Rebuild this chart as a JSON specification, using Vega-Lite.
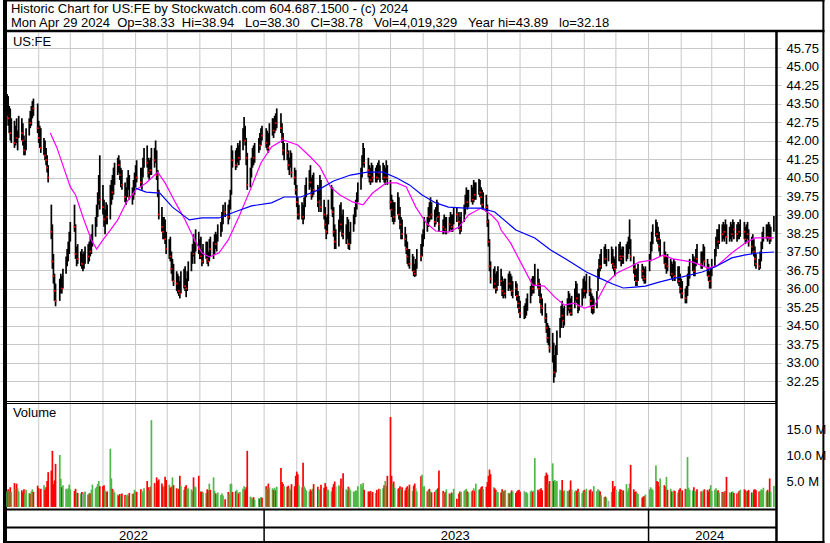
{
"$schema":"https://vega.github.io/schema/vega-lite/v6.json",
"width":781,"height":543,
"padding":{"left":0,"top":0,"right":49,"bottom":0},
"autosize":{"type":"none"},
"background":"white",
"config":{"font":"Liberation Sans","view":{"stroke":null},"axis":{"labelFont":"Liberation Sans","labelFontSize":13,"labelColor":"#000000","ticks":false,"domain":false,"grid":true,"gridColor":"#c8c8c8","gridWidth":1,"labelPadding":5,"labelOverlap":false,"labelFlush":false}},
"datasets":{
"months":[{"m":"2022-06-01"},{"m":"2022-07-01"},{"m":"2022-08-01"},{"m":"2022-09-01"},{"m":"2022-10-01"},{"m":"2022-11-01"},{"m":"2022-12-01"},{"m":"2023-01-01"},{"m":"2023-02-01"},{"m":"2023-03-01"},{"m":"2023-04-01"},{"m":"2023-05-01"},{"m":"2023-06-01"},{"m":"2023-07-01"},{"m":"2023-08-01"},{"m":"2023-09-01"},{"m":"2023-10-01"},{"m":"2023-11-01"},{"m":"2023-12-01"},{"m":"2024-01-01"},{"m":"2024-02-01"},{"m":"2024-03-01"},{"m":"2024-04-01"}],
"years":[{"yr":"2022","mid":"2022-08-30","start":"2022-04-30"},{"yr":"2023","mid":"2023-07-01T12:00:00Z","start":"2023-01-01"},{"yr":"2024","mid":"2024-02-28","start":"2024-01-01"}],
"ma":[
{"d":"2022-06-12","p":42.30,"s":"m"},{"d":"2022-06-18","p":41.74,"s":"m"},{"d":"2022-07-01","p":40.12,"s":"m"},{"d":"2022-07-06","p":39.79,"s":"m"},{"d":"2022-07-14","p":38.78,"s":"m"},{"d":"2022-07-21","p":37.97,"s":"m"},{"d":"2022-07-26","p":37.60,"s":"m"},{"d":"2022-08-01","p":37.97,"s":"m"},{"d":"2022-08-08","p":38.37,"s":"m"},{"d":"2022-08-15","p":38.78,"s":"m"},{"d":"2022-08-23","p":39.47,"s":"m"},{"d":"2022-09-01","p":39.99,"s":"m"},{"d":"2022-09-11","p":40.28,"s":"m"},{"d":"2022-09-22","p":40.72,"s":"m"},{"d":"2022-09-29","p":40.28,"s":"m"},{"d":"2022-10-09","p":39.47,"s":"m"},{"d":"2022-10-18","p":38.78,"s":"m"},{"d":"2022-10-27","p":37.97,"s":"m"},{"d":"2022-11-03","p":37.44,"s":"m"},{"d":"2022-11-10","p":37.28,"s":"m"},{"d":"2022-11-19","p":37.44,"s":"m"},{"d":"2022-11-28","p":37.97,"s":"m"},{"d":"2022-12-08","p":38.90,"s":"m"},{"d":"2022-12-20","p":40.12,"s":"m"},{"d":"2022-12-29","p":41.09,"s":"m"},{"d":"2023-01-08","p":41.74,"s":"m"},{"d":"2023-01-19","p":42.02,"s":"m"},{"d":"2023-02-02","p":41.82,"s":"m"},{"d":"2023-02-14","p":41.33,"s":"m"},{"d":"2023-02-23","p":40.93,"s":"m"},{"d":"2023-03-05","p":40.12,"s":"m"},{"d":"2023-03-14","p":39.79,"s":"m"},{"d":"2023-03-26","p":39.51,"s":"m"},{"d":"2023-04-05","p":39.39,"s":"m"},{"d":"2023-04-14","p":39.87,"s":"m"},{"d":"2023-04-27","p":40.28,"s":"m"},{"d":"2023-05-07","p":40.28,"s":"m"},{"d":"2023-05-16","p":40.12,"s":"m"},{"d":"2023-05-25","p":39.30,"s":"m"},{"d":"2023-06-04","p":38.65,"s":"m"},{"d":"2023-06-13","p":38.33,"s":"m"},{"d":"2023-06-25","p":38.29,"s":"m"},{"d":"2023-07-05","p":38.49,"s":"m"},{"d":"2023-07-14","p":38.98,"s":"m"},{"d":"2023-07-26","p":39.26,"s":"m"},{"d":"2023-08-05","p":38.98,"s":"m"},{"d":"2023-08-11","p":38.70,"s":"m"},{"d":"2023-08-14","p":38.37,"s":"m"},{"d":"2023-08-23","p":37.85,"s":"m"},{"d":"2023-09-02","p":37.03,"s":"m"},{"d":"2023-09-13","p":36.14,"s":"m"},{"d":"2023-09-24","p":36.10,"s":"m"},{"d":"2023-10-04","p":35.65,"s":"m"},{"d":"2023-10-13","p":35.33,"s":"m"},{"d":"2023-10-22","p":35.41,"s":"m"},{"d":"2023-11-01","p":35.21,"s":"m"},{"d":"2023-11-11","p":35.33,"s":"m"},{"d":"2023-11-22","p":36.22,"s":"m"},{"d":"2023-12-02","p":36.63,"s":"m"},{"d":"2023-12-14","p":36.87,"s":"m"},{"d":"2023-12-23","p":37.07,"s":"m"},{"d":"2024-01-05","p":37.16,"s":"m"},{"d":"2024-01-15","p":37.36,"s":"m"},{"d":"2024-01-24","p":37.20,"s":"m"},{"d":"2024-01-30","p":37.16,"s":"m"},{"d":"2024-02-12","p":37.07,"s":"m"},{"d":"2024-02-27","p":36.83,"s":"m"},{"d":"2024-03-07","p":36.95,"s":"m"},{"d":"2024-03-20","p":37.44,"s":"m"},{"d":"2024-04-02","p":37.85,"s":"m"},{"d":"2024-04-11","p":38.05,"s":"m"},{"d":"2024-04-29","p":38.05,"s":"m"},
{"d":"2022-09-01","p":40.07,"s":"b"},{"d":"2022-09-11","p":39.91,"s":"b"},{"d":"2022-09-24","p":39.87,"s":"b"},{"d":"2022-10-06","p":39.30,"s":"b"},{"d":"2022-10-22","p":38.78,"s":"b"},{"d":"2022-11-03","p":38.86,"s":"b"},{"d":"2022-11-19","p":38.86,"s":"b"},{"d":"2022-12-04","p":39.10,"s":"b"},{"d":"2022-12-20","p":39.35,"s":"b"},{"d":"2023-01-08","p":39.47,"s":"b"},{"d":"2023-01-20","p":39.71,"s":"b"},{"d":"2023-02-05","p":39.71,"s":"b"},{"d":"2023-02-21","p":39.99,"s":"b"},{"d":"2023-03-08","p":40.36,"s":"b"},{"d":"2023-03-24","p":40.60,"s":"b"},{"d":"2023-04-09","p":40.72,"s":"b"},{"d":"2023-04-24","p":40.72,"s":"b"},{"d":"2023-05-07","p":40.48,"s":"b"},{"d":"2023-05-19","p":40.20,"s":"b"},{"d":"2023-05-31","p":39.79,"s":"b"},{"d":"2023-06-13","p":39.47,"s":"b"},{"d":"2023-06-25","p":39.30,"s":"b"},{"d":"2023-07-11","p":39.26,"s":"b"},{"d":"2023-07-26","p":39.26,"s":"b"},{"d":"2023-08-08","p":39.10,"s":"b"},{"d":"2023-08-28","p":38.37,"s":"b"},{"d":"2023-09-15","p":38.05,"s":"b"},{"d":"2023-09-30","p":37.56,"s":"b"},{"d":"2023-10-16","p":37.16,"s":"b"},{"d":"2023-11-03","p":36.67,"s":"b"},{"d":"2023-11-15","p":36.43,"s":"b"},{"d":"2023-11-28","p":36.18,"s":"b"},{"d":"2023-12-08","p":36.02,"s":"b"},{"d":"2023-12-19","p":36.06,"s":"b"},{"d":"2023-12-29","p":36.10,"s":"b"},{"d":"2024-01-11","p":36.26,"s":"b"},{"d":"2024-01-27","p":36.43,"s":"b"},{"d":"2024-02-02","p":36.47,"s":"b"},{"d":"2024-02-21","p":36.67,"s":"b"},{"d":"2024-03-04","p":36.87,"s":"b"},{"d":"2024-03-20","p":37.24,"s":"b"},{"d":"2024-04-02","p":37.36,"s":"b"},{"d":"2024-04-14","p":37.44,"s":"b"},{"d":"2024-04-29","p":37.48,"s":"b"}
],
"px":[
{"d":"2022-05-02","h":43.89,"l":43.0,"c":43.5,"v":3.0},
{"d":"2022-05-03","h":43.8,"l":42.6,"c":42.9,"v":3.4},
{"d":"2022-05-04","h":43.4,"l":42.3,"c":43.2,"v":3.1},
{"d":"2022-05-05","h":43.3,"l":42.0,"c":42.3,"v":3.8},
{"d":"2022-05-06","h":42.9,"l":41.9,"c":42.6,"v":2.9},
{"d":"2022-05-09","h":42.8,"l":41.7,"c":41.9,"v":4.6},
{"d":"2022-05-10","h":42.6,"l":41.8,"c":42.4,"v":3.5},
{"d":"2022-05-11","h":42.9,"l":41.9,"c":42.1,"v":4.5},
{"d":"2022-05-12","h":42.4,"l":41.6,"c":42.2,"v":3.6},
{"d":"2022-05-13","h":43.0,"l":42.1,"c":42.8,"v":3.0},
{"d":"2022-05-16","h":42.9,"l":42.0,"c":42.3,"v":3.2},
{"d":"2022-05-17","h":42.7,"l":41.8,"c":42.0,"v":2.8},
{"d":"2022-05-18","h":42.2,"l":41.4,"c":41.6,"v":3.4},
{"d":"2022-05-19","h":42.0,"l":41.4,"c":41.9,"v":2.6},
{"d":"2022-05-20","h":42.5,"l":41.6,"c":42.3,"v":3.3},
{"d":"2022-05-23","h":42.9,"l":42.2,"c":42.8,"v":2.7},
{"d":"2022-05-24","h":43.2,"l":42.5,"c":42.7,"v":2.5},
{"d":"2022-05-25","h":43.4,"l":42.6,"c":43.2,"v":3.0},
{"d":"2022-05-26","h":43.6,"l":42.9,"c":43.4,"v":3.4},
{"d":"2022-05-27","h":43.7,"l":43.0,"c":43.3,"v":2.9},
{"d":"2022-05-31","h":43.5,"l":42.3,"c":42.5,"v":4.1},
{"d":"2022-06-01","h":42.8,"l":41.9,"c":42.1,"v":3.6},
{"d":"2022-06-02","h":42.6,"l":41.7,"c":42.4,"v":3.0},
{"d":"2022-06-03","h":42.5,"l":41.5,"c":41.7,"v":3.5},
{"d":"2022-06-06","h":42.1,"l":41.4,"c":41.9,"v":4.2},
{"d":"2022-06-07","h":42.0,"l":41.2,"c":41.4,"v":3.3},
{"d":"2022-06-08","h":41.7,"l":41.0,"c":41.2,"v":3.8},
{"d":"2022-06-09","h":41.4,"l":40.7,"c":40.9,"v":5.0},
{"d":"2022-06-10","h":41.0,"l":40.3,"c":40.5,"v":6.7},
{"d":"2022-06-13","h":39.4,"l":38.0,"c":38.3,"v":7.0},
{"d":"2022-06-14","h":38.6,"l":36.8,"c":37.1,"v":10.8},
{"d":"2022-06-15","h":37.4,"l":36.2,"c":36.5,"v":4.4},
{"d":"2022-06-16","h":36.6,"l":35.5,"c":35.9,"v":5.1},
{"d":"2022-06-17","h":36.2,"l":35.28,"c":35.5,"v":8.3},
{"d":"2022-06-21","h":36.4,"l":35.5,"c":36.2,"v":10.0},
{"d":"2022-06-22","h":36.6,"l":35.8,"c":36.4,"v":5.4},
{"d":"2022-06-23","h":36.5,"l":35.8,"c":36.0,"v":3.8},
{"d":"2022-06-24","h":36.8,"l":36.0,"c":36.7,"v":4.2},
{"d":"2022-06-27","h":37.3,"l":36.6,"c":37.1,"v":3.5},
{"d":"2022-06-28","h":37.6,"l":36.9,"c":37.2,"v":3.3},
{"d":"2022-06-29","h":37.9,"l":37.1,"c":37.7,"v":3.6},
{"d":"2022-06-30","h":38.3,"l":37.4,"c":38.1,"v":4.3},
{"d":"2022-07-01","h":38.7,"l":37.9,"c":38.6,"v":3.4},
{"d":"2022-07-05","h":39.4,"l":38.3,"c":38.5,"v":3.1},
{"d":"2022-07-06","h":38.6,"l":37.2,"c":37.4,"v":3.5},
{"d":"2022-07-07","h":37.7,"l":36.9,"c":37.5,"v":2.8},
{"d":"2022-07-08","h":37.8,"l":37.0,"c":37.2,"v":2.7},
{"d":"2022-07-11","h":37.5,"l":36.9,"c":37.3,"v":2.6},
{"d":"2022-07-12","h":37.6,"l":36.8,"c":37.0,"v":2.9},
{"d":"2022-07-13","h":37.4,"l":36.7,"c":37.0,"v":2.5},
{"d":"2022-07-14","h":37.5,"l":36.8,"c":37.1,"v":2.8},
{"d":"2022-07-15","h":37.7,"l":37.0,"c":37.5,"v":3.0},
{"d":"2022-07-18","h":37.8,"l":37.0,"c":37.3,"v":2.4},
{"d":"2022-07-19","h":37.9,"l":37.1,"c":37.7,"v":2.7},
{"d":"2022-07-20","h":38.1,"l":37.3,"c":37.5,"v":2.6},
{"d":"2022-07-21","h":38.2,"l":37.4,"c":38.0,"v":3.3},
{"d":"2022-07-22","h":38.6,"l":37.7,"c":38.4,"v":4.3},
{"d":"2022-07-25","h":38.9,"l":38.1,"c":38.7,"v":3.6},
{"d":"2022-07-26","h":39.4,"l":38.5,"c":39.2,"v":3.9},
{"d":"2022-07-27","h":39.9,"l":38.9,"c":39.7,"v":4.4},
{"d":"2022-07-28","h":40.6,"l":39.4,"c":40.4,"v":5.0},
{"d":"2022-07-29","h":41.4,"l":39.2,"c":39.6,"v":4.0},
{"d":"2022-08-01","h":40.2,"l":39.0,"c":39.3,"v":4.0},
{"d":"2022-08-02","h":39.6,"l":38.5,"c":38.8,"v":4.2},
{"d":"2022-08-03","h":39.2,"l":38.2,"c":38.9,"v":3.2},
{"d":"2022-08-04","h":39.5,"l":38.6,"c":39.3,"v":2.9},
{"d":"2022-08-05","h":39.4,"l":38.6,"c":38.9,"v":3.0},
{"d":"2022-08-08","h":40.2,"l":38.8,"c":39.9,"v":11.2},
{"d":"2022-08-09","h":40.4,"l":39.4,"c":40.1,"v":5.5},
{"d":"2022-08-10","h":40.6,"l":39.6,"c":39.9,"v":3.5},
{"d":"2022-08-11","h":40.9,"l":39.8,"c":40.6,"v":3.2},
{"d":"2022-08-12","h":41.1,"l":40.2,"c":40.9,"v":2.8},
{"d":"2022-08-15","h":41.3,"l":40.6,"c":41.1,"v":2.4},
{"d":"2022-08-16","h":41.4,"l":40.7,"c":41.0,"v":2.2},
{"d":"2022-08-17","h":41.2,"l":40.4,"c":40.6,"v":2.5},
{"d":"2022-08-18","h":40.9,"l":40.1,"c":40.7,"v":2.1},
{"d":"2022-08-19","h":40.8,"l":40.0,"c":40.2,"v":2.6},
{"d":"2022-08-22","h":40.3,"l":39.5,"c":39.7,"v":2.3},
{"d":"2022-08-23","h":40.1,"l":39.4,"c":39.9,"v":2.0},
{"d":"2022-08-24","h":40.5,"l":39.7,"c":40.3,"v":2.4},
{"d":"2022-08-25","h":40.8,"l":40.0,"c":40.5,"v":2.2},
{"d":"2022-08-26","h":40.6,"l":39.6,"c":39.7,"v":2.7},
{"d":"2022-08-29","h":40.1,"l":39.4,"c":39.9,"v":2.5},
{"d":"2022-08-30","h":40.4,"l":39.6,"c":39.8,"v":2.6},
{"d":"2022-08-31","h":40.7,"l":39.8,"c":40.5,"v":3.3},
{"d":"2022-09-01","h":41.0,"l":40.1,"c":40.8,"v":3.0},
{"d":"2022-09-02","h":41.2,"l":40.3,"c":40.5,"v":2.9},
{"d":"2022-09-06","h":40.9,"l":40.1,"c":40.3,"v":3.4},
{"d":"2022-09-07","h":40.9,"l":40.0,"c":40.7,"v":3.1},
{"d":"2022-09-08","h":41.3,"l":40.5,"c":41.1,"v":2.8},
{"d":"2022-09-09","h":41.7,"l":40.9,"c":41.4,"v":3.6},
{"d":"2022-09-12","h":41.8,"l":40.9,"c":41.1,"v":5.0},
{"d":"2022-09-13","h":41.3,"l":40.5,"c":40.7,"v":3.8},
{"d":"2022-09-14","h":41.2,"l":40.4,"c":41.0,"v":3.3},
{"d":"2022-09-15","h":41.3,"l":40.6,"c":40.8,"v":3.9},
{"d":"2022-09-16","h":41.7,"l":40.6,"c":41.5,"v":16.7},
{"d":"2022-09-19","h":41.7,"l":40.9,"c":41.2,"v":4.6},
{"d":"2022-09-20","h":42.0,"l":41.1,"c":41.6,"v":4.0},
{"d":"2022-09-21","h":41.6,"l":40.4,"c":40.6,"v":5.7},
{"d":"2022-09-22","h":40.8,"l":39.7,"c":39.9,"v":5.0},
{"d":"2022-09-23","h":40.0,"l":38.8,"c":39.0,"v":5.3},
{"d":"2022-09-26","h":39.3,"l":38.3,"c":38.5,"v":4.5},
{"d":"2022-09-27","h":38.9,"l":38.0,"c":38.3,"v":3.8},
{"d":"2022-09-28","h":38.9,"l":38.0,"c":38.7,"v":4.0},
{"d":"2022-09-29","h":38.8,"l":37.8,"c":38.0,"v":5.8},
{"d":"2022-09-30","h":38.3,"l":37.4,"c":37.6,"v":5.2},
{"d":"2022-10-03","h":38.0,"l":37.2,"c":37.8,"v":4.3},
{"d":"2022-10-04","h":38.1,"l":37.1,"c":37.3,"v":3.7},
{"d":"2022-10-05","h":37.5,"l":36.6,"c":36.8,"v":3.9},
{"d":"2022-10-06","h":37.2,"l":36.3,"c":37.0,"v":5.7},
{"d":"2022-10-07","h":37.0,"l":36.1,"c":36.3,"v":4.2},
{"d":"2022-10-10","h":36.7,"l":35.9,"c":36.2,"v":3.6},
{"d":"2022-10-11","h":36.6,"l":35.8,"c":36.4,"v":3.4},
{"d":"2022-10-12","h":36.5,"l":35.7,"c":35.9,"v":3.5},
{"d":"2022-10-13","h":36.3,"l":35.6,"c":35.8,"v":6.0},
{"d":"2022-10-14","h":36.7,"l":35.8,"c":36.4,"v":4.1},
{"d":"2022-10-17","h":36.8,"l":36.0,"c":36.5,"v":3.3},
{"d":"2022-10-18","h":36.9,"l":35.9,"c":36.1,"v":3.9},
{"d":"2022-10-19","h":36.4,"l":35.65,"c":36.0,"v":4.2},
{"d":"2022-10-20","h":36.7,"l":35.9,"c":36.5,"v":3.5},
{"d":"2022-10-21","h":37.1,"l":36.3,"c":36.9,"v":3.6},
{"d":"2022-10-24","h":37.5,"l":36.7,"c":37.3,"v":3.4},
{"d":"2022-10-25","h":37.8,"l":37.0,"c":37.6,"v":3.0},
{"d":"2022-10-26","h":38.2,"l":37.3,"c":37.4,"v":5.7},
{"d":"2022-10-27","h":37.9,"l":37.0,"c":37.7,"v":4.0},
{"d":"2022-10-28","h":38.4,"l":37.5,"c":38.2,"v":3.8},
{"d":"2022-10-31","h":38.3,"l":37.4,"c":37.6,"v":6.0},
{"d":"2022-11-01","h":38.0,"l":37.2,"c":37.8,"v":3.1},
{"d":"2022-11-02","h":38.1,"l":37.2,"c":37.3,"v":2.9},
{"d":"2022-11-03","h":37.6,"l":36.9,"c":37.1,"v":3.0},
{"d":"2022-11-04","h":37.8,"l":37.0,"c":37.6,"v":2.8},
{"d":"2022-11-07","h":37.9,"l":37.2,"c":37.7,"v":2.7},
{"d":"2022-11-08","h":37.9,"l":37.0,"c":37.2,"v":3.4},
{"d":"2022-11-09","h":37.5,"l":36.9,"c":37.1,"v":3.2},
{"d":"2022-11-10","h":38.0,"l":37.1,"c":37.8,"v":4.5},
{"d":"2022-11-11","h":38.1,"l":37.3,"c":37.6,"v":3.3},
{"d":"2022-11-14","h":37.9,"l":37.2,"c":37.7,"v":5.7},
{"d":"2022-11-15","h":38.2,"l":37.4,"c":38.0,"v":3.1},
{"d":"2022-11-16","h":38.3,"l":37.6,"c":37.8,"v":2.6},
{"d":"2022-11-17","h":38.2,"l":37.5,"c":38.1,"v":2.4},
{"d":"2022-11-18","h":38.6,"l":37.9,"c":38.4,"v":2.8},
{"d":"2022-11-21","h":38.7,"l":38.1,"c":38.5,"v":2.3},
{"d":"2022-11-22","h":39.1,"l":38.3,"c":38.9,"v":2.6},
{"d":"2022-11-23","h":39.4,"l":38.6,"c":39.2,"v":2.2},
{"d":"2022-11-25","h":39.5,"l":38.9,"c":39.1,"v":1.5},
{"d":"2022-11-28","h":39.4,"l":38.6,"c":38.9,"v":2.9},
{"d":"2022-11-29","h":39.6,"l":38.8,"c":39.4,"v":2.5},
{"d":"2022-11-30","h":40.0,"l":39.2,"c":39.8,"v":4.4},
{"d":"2022-12-01","h":41.8,"l":39.8,"c":41.3,"v":4.5},
{"d":"2022-12-02","h":41.6,"l":40.9,"c":41.2,"v":2.9},
{"d":"2022-12-05","h":41.6,"l":40.8,"c":41.0,"v":3.0},
{"d":"2022-12-06","h":41.7,"l":40.9,"c":41.4,"v":3.3},
{"d":"2022-12-07","h":41.9,"l":41.1,"c":41.6,"v":2.8},
{"d":"2022-12-08","h":41.8,"l":41.0,"c":41.3,"v":2.6},
{"d":"2022-12-09","h":42.0,"l":41.2,"c":41.7,"v":2.9},
{"d":"2022-12-12","h":42.5,"l":41.6,"c":42.3,"v":3.5},
{"d":"2022-12-13","h":42.95,"l":42.0,"c":42.4,"v":4.0},
{"d":"2022-12-14","h":42.6,"l":41.8,"c":42.0,"v":3.3},
{"d":"2022-12-15","h":42.1,"l":41.0,"c":41.3,"v":3.8},
{"d":"2022-12-16","h":41.5,"l":40.0,"c":40.2,"v":10.8},
{"d":"2022-12-19","h":40.9,"l":40.1,"c":40.6,"v":2.0},
{"d":"2022-12-20","h":41.3,"l":40.5,"c":41.1,"v":1.8},
{"d":"2022-12-21","h":41.7,"l":40.9,"c":41.5,"v":1.6},
{"d":"2022-12-22","h":41.8,"l":41.0,"c":41.3,"v":1.9},
{"d":"2022-12-23","h":41.9,"l":41.1,"c":41.7,"v":1.4},
{"d":"2022-12-27","h":42.1,"l":41.5,"c":41.9,"v":1.7},
{"d":"2022-12-28","h":42.3,"l":41.6,"c":41.8,"v":1.6},
{"d":"2022-12-29","h":42.5,"l":41.8,"c":42.3,"v":1.9},
{"d":"2022-12-30","h":42.6,"l":42.0,"c":42.2,"v":1.8},
{"d":"2023-01-03","h":42.5,"l":41.7,"c":41.9,"v":4.0},
{"d":"2023-01-04","h":42.4,"l":41.6,"c":42.2,"v":3.5},
{"d":"2023-01-05","h":42.3,"l":41.5,"c":41.7,"v":4.5},
{"d":"2023-01-06","h":42.7,"l":41.8,"c":42.5,"v":3.8},
{"d":"2023-01-09","h":42.9,"l":42.2,"c":42.7,"v":3.6},
{"d":"2023-01-10","h":42.9,"l":42.1,"c":42.4,"v":3.3},
{"d":"2023-01-11","h":43.0,"l":42.3,"c":42.9,"v":3.7},
{"d":"2023-01-12","h":43.1,"l":42.4,"c":42.7,"v":3.2},
{"d":"2023-01-13","h":43.3,"l":42.5,"c":43.0,"v":3.9},
{"d":"2023-01-17","h":43.1,"l":42.3,"c":42.5,"v":7.5},
{"d":"2023-01-18","h":42.7,"l":41.9,"c":42.1,"v":4.8},
{"d":"2023-01-19","h":42.3,"l":41.4,"c":41.6,"v":4.4},
{"d":"2023-01-20","h":41.9,"l":41.2,"c":41.7,"v":4.0},
{"d":"2023-01-23","h":41.9,"l":41.2,"c":41.5,"v":3.9},
{"d":"2023-01-24","h":41.6,"l":40.8,"c":41.0,"v":4.1},
{"d":"2023-01-25","h":41.3,"l":40.6,"c":41.1,"v":3.6},
{"d":"2023-01-26","h":41.6,"l":40.9,"c":41.4,"v":3.3},
{"d":"2023-01-27","h":41.5,"l":40.5,"c":40.7,"v":4.4},
{"d":"2023-01-30","h":40.9,"l":40.2,"c":40.5,"v":4.0},
{"d":"2023-01-31","h":40.8,"l":39.8,"c":40.0,"v":6.0},
{"d":"2023-02-01","h":40.2,"l":39.3,"c":39.5,"v":6.8},
{"d":"2023-02-02","h":39.7,"l":38.8,"c":39.0,"v":6.3},
{"d":"2023-02-03","h":39.4,"l":38.8,"c":39.2,"v":4.2},
{"d":"2023-02-06","h":39.5,"l":38.8,"c":39.3,"v":3.8},
{"d":"2023-02-07","h":39.4,"l":38.6,"c":38.9,"v":8.5},
{"d":"2023-02-08","h":39.7,"l":38.8,"c":39.5,"v":4.0},
{"d":"2023-02-09","h":40.2,"l":39.3,"c":40.0,"v":3.6},
{"d":"2023-02-10","h":40.5,"l":39.7,"c":40.3,"v":3.2},
{"d":"2023-02-13","h":40.8,"l":40.0,"c":40.6,"v":3.0},
{"d":"2023-02-14","h":41.0,"l":40.1,"c":40.3,"v":3.4},
{"d":"2023-02-15","h":40.5,"l":39.6,"c":39.8,"v":3.1},
{"d":"2023-02-16","h":40.6,"l":39.7,"c":40.4,"v":3.5},
{"d":"2023-02-17","h":40.7,"l":39.8,"c":40.0,"v":4.4},
{"d":"2023-02-21","h":40.2,"l":39.3,"c":39.5,"v":3.9},
{"d":"2023-02-22","h":40.1,"l":39.1,"c":39.8,"v":3.2},
{"d":"2023-02-23","h":40.6,"l":39.6,"c":40.3,"v":3.4},
{"d":"2023-02-24","h":40.4,"l":39.1,"c":39.3,"v":4.3},
{"d":"2023-02-27","h":39.6,"l":38.8,"c":39.0,"v":3.7},
{"d":"2023-02-28","h":39.3,"l":38.4,"c":38.6,"v":4.6},
{"d":"2023-03-01","h":38.9,"l":38.0,"c":38.3,"v":3.9},
{"d":"2023-03-02","h":39.0,"l":38.2,"c":38.8,"v":3.4},
{"d":"2023-03-03","h":39.6,"l":38.6,"c":39.4,"v":3.3},
{"d":"2023-03-06","h":40.2,"l":39.2,"c":39.9,"v":3.0},
{"d":"2023-03-07","h":40.1,"l":38.9,"c":39.1,"v":3.8},
{"d":"2023-03-08","h":39.3,"l":38.1,"c":38.3,"v":4.4},
{"d":"2023-03-09","h":38.6,"l":37.6,"c":37.9,"v":4.9},
{"d":"2023-03-10","h":38.4,"l":37.6,"c":38.1,"v":4.0},
{"d":"2023-03-13","h":38.8,"l":37.7,"c":38.5,"v":4.2},
{"d":"2023-03-14","h":39.4,"l":38.3,"c":39.2,"v":3.9},
{"d":"2023-03-15","h":39.5,"l":38.4,"c":38.6,"v":5.5},
{"d":"2023-03-16","h":39.0,"l":38.1,"c":38.8,"v":3.6},
{"d":"2023-03-17","h":39.2,"l":38.0,"c":38.2,"v":6.5},
{"d":"2023-03-20","h":38.6,"l":37.8,"c":38.4,"v":3.4},
{"d":"2023-03-21","h":38.9,"l":38.0,"c":38.6,"v":3.1},
{"d":"2023-03-22","h":38.8,"l":37.6,"c":37.8,"v":3.9},
{"d":"2023-03-23","h":38.3,"l":37.56,"c":38.0,"v":3.7},
{"d":"2023-03-24","h":38.7,"l":37.8,"c":38.5,"v":3.2},
{"d":"2023-03-27","h":39.0,"l":38.3,"c":38.8,"v":3.0},
{"d":"2023-03-28","h":39.3,"l":38.6,"c":39.1,"v":2.9},
{"d":"2023-03-29","h":39.6,"l":38.9,"c":39.4,"v":3.2},
{"d":"2023-03-30","h":39.9,"l":39.2,"c":39.7,"v":3.1},
{"d":"2023-03-31","h":40.3,"l":39.5,"c":40.1,"v":4.0},
{"d":"2023-04-03","h":40.9,"l":40.0,"c":40.7,"v":4.4},
{"d":"2023-04-04","h":41.4,"l":40.5,"c":41.2,"v":4.0},
{"d":"2023-04-05","h":41.9,"l":41.0,"c":41.5,"v":4.6},
{"d":"2023-04-06","h":41.7,"l":40.9,"c":41.1,"v":3.3},
{"d":"2023-04-10","h":41.3,"l":40.5,"c":40.8,"v":3.0},
{"d":"2023-04-11","h":41.0,"l":40.3,"c":40.6,"v":2.9},
{"d":"2023-04-12","h":40.9,"l":40.2,"c":40.4,"v":3.1},
{"d":"2023-04-13","h":41.1,"l":40.3,"c":40.9,"v":2.8},
{"d":"2023-04-14","h":41.0,"l":40.3,"c":40.5,"v":2.9},
{"d":"2023-04-17","h":40.9,"l":40.3,"c":40.7,"v":2.7},
{"d":"2023-04-18","h":41.0,"l":40.3,"c":40.5,"v":3.3},
{"d":"2023-04-19","h":41.1,"l":40.4,"c":40.9,"v":3.0},
{"d":"2023-04-20","h":41.2,"l":40.5,"c":40.7,"v":3.5},
{"d":"2023-04-21","h":41.0,"l":40.3,"c":40.8,"v":3.4},
{"d":"2023-04-24","h":41.1,"l":40.4,"c":40.9,"v":3.6},
{"d":"2023-04-25","h":41.0,"l":40.3,"c":40.5,"v":4.2},
{"d":"2023-04-26","h":40.9,"l":40.2,"c":40.6,"v":5.0},
{"d":"2023-04-27","h":41.2,"l":40.4,"c":40.9,"v":4.1},
{"d":"2023-04-28","h":41.0,"l":40.2,"c":40.5,"v":6.0},
{"d":"2023-05-01","h":40.4,"l":39.2,"c":39.5,"v":17.3},
{"d":"2023-05-02","h":39.8,"l":38.9,"c":39.2,"v":6.0},
{"d":"2023-05-03","h":39.6,"l":38.7,"c":39.3,"v":4.5},
{"d":"2023-05-04","h":39.5,"l":38.6,"c":38.9,"v":4.9},
{"d":"2023-05-05","h":39.5,"l":38.7,"c":39.3,"v":3.7},
{"d":"2023-05-08","h":39.9,"l":39.0,"c":39.6,"v":3.5},
{"d":"2023-05-09","h":39.7,"l":38.8,"c":39.0,"v":3.6},
{"d":"2023-05-10","h":39.3,"l":38.4,"c":38.6,"v":4.0},
{"d":"2023-05-11","h":38.9,"l":38.0,"c":38.7,"v":3.4},
{"d":"2023-05-12","h":38.8,"l":38.0,"c":38.2,"v":3.8},
{"d":"2023-05-15","h":38.5,"l":37.7,"c":38.0,"v":3.2},
{"d":"2023-05-16","h":38.2,"l":37.4,"c":37.6,"v":3.7},
{"d":"2023-05-17","h":37.9,"l":37.0,"c":37.3,"v":4.0},
{"d":"2023-05-18","h":37.6,"l":36.9,"c":37.4,"v":3.5},
{"d":"2023-05-19","h":37.6,"l":36.8,"c":37.0,"v":4.3},
{"d":"2023-05-22","h":37.4,"l":36.7,"c":37.2,"v":3.1},
{"d":"2023-05-23","h":37.3,"l":36.5,"c":36.7,"v":4.1},
{"d":"2023-05-24","h":37.0,"l":36.47,"c":36.6,"v":4.5},
{"d":"2023-05-25","h":37.2,"l":36.5,"c":37.0,"v":3.6},
{"d":"2023-05-26","h":37.6,"l":36.8,"c":37.4,"v":3.0},
{"d":"2023-05-30","h":37.8,"l":37.1,"c":37.3,"v":5.9},
{"d":"2023-05-31","h":38.2,"l":37.3,"c":38.0,"v":6.2},
{"d":"2023-06-01","h":38.4,"l":37.7,"c":38.2,"v":3.8},
{"d":"2023-06-02","h":38.9,"l":38.0,"c":38.7,"v":4.0},
{"d":"2023-06-05","h":38.9,"l":38.3,"c":38.6,"v":3.0},
{"d":"2023-06-06","h":39.3,"l":38.5,"c":39.1,"v":3.3},
{"d":"2023-06-07","h":39.5,"l":38.7,"c":38.9,"v":3.5},
{"d":"2023-06-08","h":39.7,"l":38.8,"c":39.4,"v":3.0},
{"d":"2023-06-09","h":39.5,"l":38.8,"c":39.0,"v":2.8},
{"d":"2023-06-12","h":39.2,"l":38.5,"c":38.7,"v":2.9},
{"d":"2023-06-13","h":39.3,"l":38.6,"c":39.1,"v":3.2},
{"d":"2023-06-14","h":39.6,"l":38.9,"c":39.4,"v":3.4},
{"d":"2023-06-15","h":39.5,"l":38.7,"c":38.9,"v":3.6},
{"d":"2023-06-16","h":39.1,"l":38.3,"c":38.6,"v":7.0},
{"d":"2023-06-20","h":38.8,"l":38.2,"c":38.5,"v":3.1},
{"d":"2023-06-21","h":39.0,"l":38.3,"c":38.8,"v":2.7},
{"d":"2023-06-22","h":38.9,"l":38.2,"c":38.4,"v":2.9},
{"d":"2023-06-23","h":38.9,"l":38.2,"c":38.7,"v":3.4},
{"d":"2023-06-26","h":38.9,"l":38.3,"c":38.6,"v":2.6},
{"d":"2023-06-27","h":39.1,"l":38.4,"c":38.9,"v":2.5},
{"d":"2023-06-28","h":39.0,"l":38.3,"c":38.5,"v":2.8},
{"d":"2023-06-29","h":39.0,"l":38.3,"c":38.8,"v":2.6},
{"d":"2023-06-30","h":39.3,"l":38.6,"c":39.1,"v":3.5},
{"d":"2023-07-03","h":39.3,"l":38.7,"c":39.0,"v":1.6},
{"d":"2023-07-05","h":39.1,"l":38.4,"c":38.7,"v":2.6},
{"d":"2023-07-06","h":38.9,"l":38.2,"c":38.4,"v":3.0},
{"d":"2023-07-07","h":39.1,"l":38.3,"c":38.9,"v":2.9},
{"d":"2023-07-10","h":39.4,"l":38.7,"c":39.2,"v":3.1},
{"d":"2023-07-11","h":39.8,"l":39.0,"c":39.6,"v":3.3},
{"d":"2023-07-12","h":40.1,"l":39.3,"c":39.9,"v":3.5},
{"d":"2023-07-13","h":40.0,"l":39.2,"c":39.5,"v":3.0},
{"d":"2023-07-14","h":40.0,"l":39.3,"c":39.8,"v":2.8},
{"d":"2023-07-17","h":40.2,"l":39.5,"c":40.0,"v":3.0},
{"d":"2023-07-18","h":40.1,"l":39.4,"c":39.6,"v":3.2},
{"d":"2023-07-19","h":40.4,"l":39.5,"c":40.2,"v":3.6},
{"d":"2023-07-20","h":40.3,"l":39.6,"c":39.8,"v":3.1},
{"d":"2023-07-21","h":40.3,"l":39.6,"c":40.1,"v":4.5},
{"d":"2023-07-24","h":40.44,"l":39.8,"c":40.3,"v":3.3},
{"d":"2023-07-25","h":40.4,"l":39.7,"c":39.9,"v":3.4},
{"d":"2023-07-26","h":40.1,"l":39.4,"c":39.7,"v":3.8},
{"d":"2023-07-27","h":40.0,"l":39.2,"c":39.4,"v":4.0},
{"d":"2023-07-28","h":39.9,"l":39.2,"c":39.6,"v":3.5},
{"d":"2023-07-31","h":39.8,"l":39.1,"c":39.3,"v":3.9},
{"d":"2023-08-01","h":39.4,"l":38.5,"c":38.7,"v":4.8},
{"d":"2023-08-02","h":38.8,"l":37.7,"c":37.9,"v":6.0},
{"d":"2023-08-03","h":38.0,"l":36.7,"c":36.9,"v":7.2},
{"d":"2023-08-04","h":37.1,"l":36.2,"c":36.4,"v":6.3},
{"d":"2023-08-07","h":36.8,"l":36.0,"c":36.6,"v":3.8},
{"d":"2023-08-08","h":36.9,"l":36.0,"c":36.2,"v":3.6},
{"d":"2023-08-09","h":36.6,"l":35.8,"c":36.0,"v":3.3},
{"d":"2023-08-10","h":36.7,"l":35.9,"c":36.5,"v":3.0},
{"d":"2023-08-11","h":36.9,"l":36.1,"c":36.7,"v":2.9},
{"d":"2023-08-14","h":36.8,"l":36.1,"c":36.3,"v":2.8},
{"d":"2023-08-15","h":36.5,"l":35.7,"c":35.9,"v":3.4},
{"d":"2023-08-16","h":36.3,"l":35.6,"c":36.1,"v":3.0},
{"d":"2023-08-17","h":36.4,"l":35.7,"c":35.8,"v":3.1},
{"d":"2023-08-18","h":36.4,"l":35.6,"c":36.2,"v":3.3},
{"d":"2023-08-21","h":36.6,"l":35.9,"c":36.4,"v":2.7},
{"d":"2023-08-22","h":36.7,"l":36.0,"c":36.2,"v":2.6},
{"d":"2023-08-23","h":36.6,"l":35.9,"c":36.4,"v":2.8},
{"d":"2023-08-24","h":36.5,"l":35.7,"c":35.9,"v":3.2},
{"d":"2023-08-25","h":36.3,"l":35.6,"c":36.1,"v":3.0},
{"d":"2023-08-28","h":36.3,"l":35.7,"c":36.0,"v":2.7},
{"d":"2023-08-29","h":36.2,"l":35.5,"c":35.7,"v":3.0},
{"d":"2023-08-30","h":35.9,"l":35.2,"c":35.4,"v":3.2},
{"d":"2023-08-31","h":35.7,"l":35.0,"c":35.2,"v":3.3},
{"d":"2023-09-01","h":35.5,"l":34.8,"c":35.0,"v":3.0},
{"d":"2023-09-05","h":35.3,"l":34.76,"c":35.0,"v":3.1},
{"d":"2023-09-06","h":35.4,"l":34.8,"c":35.2,"v":2.8},
{"d":"2023-09-07","h":35.6,"l":34.9,"c":35.4,"v":2.9},
{"d":"2023-09-08","h":35.8,"l":35.1,"c":35.6,"v":2.6},
{"d":"2023-09-11","h":36.1,"l":35.4,"c":35.9,"v":3.0},
{"d":"2023-09-12","h":36.4,"l":35.7,"c":36.2,"v":3.2},
{"d":"2023-09-13","h":36.5,"l":35.8,"c":36.0,"v":2.9},
{"d":"2023-09-14","h":36.5,"l":35.8,"c":36.3,"v":3.1},
{"d":"2023-09-15","h":37.0,"l":36.1,"c":36.7,"v":9.4},
{"d":"2023-09-18","h":36.8,"l":36.0,"c":36.2,"v":3.3},
{"d":"2023-09-19","h":36.4,"l":35.7,"c":36.0,"v":2.9},
{"d":"2023-09-20","h":36.2,"l":35.4,"c":35.6,"v":3.4},
{"d":"2023-09-21","h":35.8,"l":35.0,"c":35.3,"v":3.6},
{"d":"2023-09-22","h":35.6,"l":34.9,"c":35.2,"v":3.2},
{"d":"2023-09-25","h":35.4,"l":34.6,"c":34.8,"v":6.0},
{"d":"2023-09-26","h":35.0,"l":34.2,"c":34.4,"v":6.6},
{"d":"2023-09-27","h":34.6,"l":33.8,"c":34.0,"v":6.2},
{"d":"2023-09-28","h":34.5,"l":33.7,"c":34.3,"v":4.5},
{"d":"2023-09-29","h":34.4,"l":33.4,"c":33.6,"v":5.0},
{"d":"2023-10-02","h":34.2,"l":33.0,"c":33.9,"v":8.4},
{"d":"2023-10-03","h":33.8,"l":32.18,"c":32.6,"v":5.0},
{"d":"2023-10-04","h":33.3,"l":32.4,"c":32.9,"v":5.2},
{"d":"2023-10-05","h":33.7,"l":32.6,"c":33.5,"v":4.8},
{"d":"2023-10-06","h":34.3,"l":33.3,"c":34.1,"v":5.0},
{"d":"2023-10-09","h":34.8,"l":34.0,"c":34.6,"v":3.3},
{"d":"2023-10-10","h":35.3,"l":34.4,"c":35.1,"v":3.1},
{"d":"2023-10-11","h":35.5,"l":34.7,"c":34.9,"v":5.2},
{"d":"2023-10-12","h":35.2,"l":34.4,"c":34.7,"v":3.0},
{"d":"2023-10-13","h":35.3,"l":34.5,"c":35.0,"v":3.2},
{"d":"2023-10-16","h":35.6,"l":34.9,"c":35.4,"v":3.1},
{"d":"2023-10-17","h":35.9,"l":35.1,"c":35.7,"v":3.0},
{"d":"2023-10-18","h":35.8,"l":35.0,"c":35.2,"v":3.3},
{"d":"2023-10-19","h":35.6,"l":34.9,"c":35.0,"v":5.1},
{"d":"2023-10-20","h":35.7,"l":34.9,"c":35.5,"v":3.4},
{"d":"2023-10-23","h":36.0,"l":35.2,"c":35.8,"v":3.0},
{"d":"2023-10-24","h":36.3,"l":35.5,"c":36.1,"v":3.2},
{"d":"2023-10-25","h":36.2,"l":35.4,"c":35.6,"v":3.1},
{"d":"2023-10-26","h":35.8,"l":35.0,"c":35.3,"v":3.5},
{"d":"2023-10-27","h":35.8,"l":35.1,"c":35.6,"v":2.9},
{"d":"2023-10-30","h":36.0,"l":35.3,"c":35.8,"v":2.7},
{"d":"2023-10-31","h":36.4,"l":35.6,"c":36.2,"v":3.1},
{"d":"2023-11-01","h":36.5,"l":35.7,"c":35.9,"v":3.3},
{"d":"2023-11-02","h":36.3,"l":35.6,"c":36.1,"v":3.0},
{"d":"2023-11-03","h":36.6,"l":35.8,"c":36.4,"v":3.5},
{"d":"2023-11-06","h":36.5,"l":35.7,"c":35.9,"v":3.2},
{"d":"2023-11-07","h":36.0,"l":35.3,"c":35.5,"v":3.4},
{"d":"2023-11-08","h":35.8,"l":35.0,"c":35.6,"v":2.8},
{"d":"2023-11-09","h":35.7,"l":34.95,"c":35.2,"v":3.0},
{"d":"2023-11-10","h":35.6,"l":35.0,"c":35.4,"v":4.0},
{"d":"2023-11-13","h":35.9,"l":35.2,"c":35.7,"v":3.1},
{"d":"2023-11-14","h":36.8,"l":35.9,"c":36.6,"v":3.4},
{"d":"2023-11-15","h":37.2,"l":36.4,"c":37.0,"v":3.2},
{"d":"2023-11-16","h":37.4,"l":36.7,"c":36.9,"v":3.0},
{"d":"2023-11-17","h":37.6,"l":36.8,"c":37.4,"v":2.3},
{"d":"2023-11-20","h":37.7,"l":37.0,"c":37.5,"v":1.9},
{"d":"2023-11-21","h":37.8,"l":37.0,"c":37.2,"v":2.0},
{"d":"2023-11-22","h":37.6,"l":36.9,"c":37.4,"v":1.8},
{"d":"2023-11-24","h":37.6,"l":37.1,"c":37.4,"v":1.2},
{"d":"2023-11-27","h":37.7,"l":37.0,"c":37.5,"v":2.9},
{"d":"2023-11-28","h":37.6,"l":36.8,"c":37.0,"v":5.0},
{"d":"2023-11-29","h":37.3,"l":36.7,"c":36.9,"v":3.6},
{"d":"2023-11-30","h":37.2,"l":36.5,"c":36.8,"v":4.0},
{"d":"2023-12-01","h":37.7,"l":36.8,"c":37.5,"v":3.3},
{"d":"2023-12-04","h":37.8,"l":37.1,"c":37.6,"v":3.0},
{"d":"2023-12-05","h":37.9,"l":37.1,"c":37.3,"v":3.4},
{"d":"2023-12-06","h":37.6,"l":36.9,"c":37.2,"v":3.3},
{"d":"2023-12-07","h":37.7,"l":37.0,"c":37.5,"v":3.1},
{"d":"2023-12-08","h":37.7,"l":37.0,"c":37.3,"v":3.2},
{"d":"2023-12-11","h":37.8,"l":37.1,"c":37.6,"v":4.4},
{"d":"2023-12-12","h":37.9,"l":37.2,"c":37.7,"v":3.0},
{"d":"2023-12-13","h":38.1,"l":37.4,"c":37.9,"v":3.6},
{"d":"2023-12-14","h":38.8,"l":37.6,"c":38.0,"v":4.5},
{"d":"2023-12-15","h":38.0,"l":37.1,"c":37.3,"v":8.1},
{"d":"2023-12-18","h":37.3,"l":36.6,"c":36.8,"v":3.4},
{"d":"2023-12-19","h":37.0,"l":36.3,"c":36.5,"v":2.9},
{"d":"2023-12-20","h":36.8,"l":36.1,"c":36.3,"v":3.0},
{"d":"2023-12-21","h":36.8,"l":36.1,"c":36.6,"v":2.7},
{"d":"2023-12-22","h":37.0,"l":36.3,"c":36.8,"v":2.5},
{"d":"2023-12-26","h":37.0,"l":36.4,"c":36.7,"v":1.8},
{"d":"2023-12-27","h":36.9,"l":36.3,"c":36.5,"v":2.0},
{"d":"2023-12-28","h":36.8,"l":36.2,"c":36.4,"v":2.1},
{"d":"2023-12-29","h":36.9,"l":36.2,"c":36.7,"v":2.4},
{"d":"2024-01-02","h":37.4,"l":36.7,"c":37.2,"v":3.4},
{"d":"2024-01-03","h":37.9,"l":37.1,"c":37.7,"v":3.8},
{"d":"2024-01-04","h":38.3,"l":37.5,"c":38.1,"v":3.5},
{"d":"2024-01-05","h":38.6,"l":37.8,"c":38.4,"v":3.3},
{"d":"2024-01-08","h":38.8,"l":38.1,"c":38.6,"v":8.0},
{"d":"2024-01-09","h":38.7,"l":37.9,"c":38.2,"v":5.0},
{"d":"2024-01-10","h":38.5,"l":37.8,"c":38.0,"v":4.8},
{"d":"2024-01-11","h":38.3,"l":37.5,"c":37.7,"v":4.0},
{"d":"2024-01-12","h":38.0,"l":37.3,"c":37.8,"v":5.5},
{"d":"2024-01-16","h":37.9,"l":37.0,"c":37.3,"v":4.2},
{"d":"2024-01-17","h":37.5,"l":36.8,"c":37.0,"v":3.9},
{"d":"2024-01-18","h":37.3,"l":36.6,"c":37.1,"v":5.8},
{"d":"2024-01-19","h":37.4,"l":36.7,"c":36.9,"v":3.3},
{"d":"2024-01-22","h":37.2,"l":36.5,"c":37.0,"v":3.5},
{"d":"2024-01-23","h":37.1,"l":36.4,"c":36.6,"v":3.0},
{"d":"2024-01-24","h":37.0,"l":36.3,"c":36.8,"v":2.9},
{"d":"2024-01-25","h":37.2,"l":36.5,"c":37.0,"v":3.2},
{"d":"2024-01-26","h":37.1,"l":36.3,"c":36.5,"v":3.1},
{"d":"2024-01-29","h":36.9,"l":36.2,"c":36.7,"v":2.8},
{"d":"2024-01-30","h":36.9,"l":36.1,"c":36.3,"v":3.3},
{"d":"2024-01-31","h":36.6,"l":35.8,"c":36.0,"v":3.6},
{"d":"2024-02-01","h":36.4,"l":35.6,"c":36.2,"v":3.0},
{"d":"2024-02-02","h":36.3,"l":35.6,"c":35.8,"v":3.2},
{"d":"2024-02-05","h":36.0,"l":35.4,"c":35.6,"v":3.5},
{"d":"2024-02-06","h":36.1,"l":35.4,"c":35.9,"v":3.4},
{"d":"2024-02-07","h":36.6,"l":35.7,"c":36.4,"v":9.6},
{"d":"2024-02-08","h":36.9,"l":36.1,"c":36.7,"v":3.7},
{"d":"2024-02-09","h":37.2,"l":36.4,"c":37.0,"v":3.3},
{"d":"2024-02-12","h":37.4,"l":36.7,"c":37.2,"v":3.2},
{"d":"2024-02-13","h":37.3,"l":36.5,"c":36.7,"v":3.8},
{"d":"2024-02-14","h":37.2,"l":36.5,"c":37.0,"v":3.1},
{"d":"2024-02-15","h":37.6,"l":36.9,"c":37.4,"v":3.0},
{"d":"2024-02-16","h":37.8,"l":37.0,"c":37.2,"v":3.4},
{"d":"2024-02-20","h":37.5,"l":36.8,"c":37.0,"v":3.0},
{"d":"2024-02-21","h":37.5,"l":36.8,"c":37.3,"v":2.9},
{"d":"2024-02-22","h":37.8,"l":37.1,"c":37.6,"v":3.2},
{"d":"2024-02-23","h":37.7,"l":36.9,"c":37.1,"v":3.4},
{"d":"2024-02-26","h":37.2,"l":36.5,"c":36.8,"v":3.3},
{"d":"2024-02-27","h":37.0,"l":36.3,"c":36.5,"v":3.0},
{"d":"2024-02-28","h":36.7,"l":36.0,"c":36.3,"v":3.5},
{"d":"2024-02-29","h":36.8,"l":36.0,"c":36.6,"v":4.2},
{"d":"2024-03-01","h":37.2,"l":36.5,"c":37.0,"v":3.1},
{"d":"2024-03-04","h":37.6,"l":36.9,"c":37.4,"v":3.3},
{"d":"2024-03-05","h":38.1,"l":37.3,"c":37.9,"v":3.6},
{"d":"2024-03-06","h":38.4,"l":37.7,"c":38.2,"v":3.0},
{"d":"2024-03-07","h":38.4,"l":37.6,"c":37.9,"v":3.2},
{"d":"2024-03-08","h":38.6,"l":37.8,"c":38.4,"v":2.8},
{"d":"2024-03-11","h":38.6,"l":37.9,"c":38.2,"v":2.9},
{"d":"2024-03-12","h":38.7,"l":38.0,"c":38.5,"v":2.7},
{"d":"2024-03-13","h":38.6,"l":37.9,"c":38.3,"v":3.0},
{"d":"2024-03-14","h":38.8,"l":38.1,"c":38.6,"v":3.1},
{"d":"2024-03-15","h":38.6,"l":37.8,"c":38.1,"v":5.8},
{"d":"2024-03-18","h":38.5,"l":37.9,"c":38.3,"v":2.8},
{"d":"2024-03-19","h":38.7,"l":38.0,"c":38.5,"v":2.6},
{"d":"2024-03-20","h":38.6,"l":37.9,"c":38.2,"v":2.9},
{"d":"2024-03-21","h":38.8,"l":38.1,"c":38.6,"v":3.0},
{"d":"2024-03-22","h":38.7,"l":38.0,"c":38.4,"v":2.7},
{"d":"2024-03-25","h":38.6,"l":37.9,"c":38.2,"v":2.6},
{"d":"2024-03-26","h":38.7,"l":38.0,"c":38.5,"v":2.8},
{"d":"2024-03-27","h":38.6,"l":38.0,"c":38.3,"v":3.1},
{"d":"2024-03-28","h":38.8,"l":38.1,"c":38.6,"v":3.3},
{"d":"2024-04-01","h":38.7,"l":38.0,"c":38.3,"v":3.4},
{"d":"2024-04-02","h":38.5,"l":37.8,"c":38.0,"v":3.2},
{"d":"2024-04-03","h":38.6,"l":37.9,"c":38.4,"v":2.9},
{"d":"2024-04-04","h":38.7,"l":38.0,"c":38.2,"v":3.1},
{"d":"2024-04-05","h":38.4,"l":37.7,"c":37.9,"v":3.3},
{"d":"2024-04-08","h":38.1,"l":37.4,"c":37.7,"v":2.8},
{"d":"2024-04-09","h":38.2,"l":37.5,"c":38.0,"v":2.7},
{"d":"2024-04-10","h":38.0,"l":37.3,"c":37.5,"v":3.3},
{"d":"2024-04-11","h":37.7,"l":36.9,"c":37.2,"v":3.4},
{"d":"2024-04-12","h":37.4,"l":36.8,"c":37.0,"v":3.2},
{"d":"2024-04-15","h":37.2,"l":36.75,"c":36.9,"v":3.0},
{"d":"2024-04-16","h":37.5,"l":36.8,"c":37.3,"v":3.1},
{"d":"2024-04-17","h":37.9,"l":37.1,"c":37.8,"v":3.4},
{"d":"2024-04-18","h":38.3,"l":37.6,"c":38.1,"v":3.2},
{"d":"2024-04-19","h":38.5,"l":37.9,"c":38.3,"v":3.7},
{"d":"2024-04-22","h":38.6,"l":38.0,"c":38.4,"v":3.0},
{"d":"2024-04-23","h":38.6,"l":37.9,"c":38.1,"v":3.3},
{"d":"2024-04-24","h":38.7,"l":38.0,"c":38.5,"v":2.9},
{"d":"2024-04-25","h":38.6,"l":37.8,"c":38.0,"v":5.5},
{"d":"2024-04-26","h":38.5,"l":37.9,"c":38.33,"v":3.0},
{"d":"2024-04-29","h":38.94,"l":38.30,"c":38.78,"v":4.02}
]},
"layer":[
{"layer":[
{"data":{"name":"months"},"mark":{"type":"rule","color":"#c8c8c8","strokeWidth":1},
 "encoding":{"x":{"field":"m","type":"temporal","axis":null,"scale":{"domain":[1651276800000,1714521600000]}},
 "y":{"datum":46.358,"type":"quantitative","scale":{"domain":[25.683,47.696]}},"y2":{"datum":27.041}}},
{"data":{"name":"px"},"mark":{"type":"rule","color":"#000000","strokeWidth":1.7},
 "encoding":{"x":{"field":"d","type":"temporal","axis":null,"scale":{"domain":[1651276800000,1714521600000]}},
 "y":{"field":"l","type":"quantitative","scale":{"domain":[25.683,47.696]},
  "axis":{"orient":"right","title":null,"format":".2f","tickCount":60,"labelOverlap":false,"labelSeparation":0,"labelBound":false,"values":[32.25,33,33.75,34.5,35.25,36,36.75,37.5,38.25,39,39.75,40.5,41.25,42,42.75,43.5,44.25,45,45.75]}},
 "y2":{"field":"h"}}},
{"data":{"name":"px"},
 "transform":[{"window":[{"op":"lag","field":"c","as":"pc"}],"sort":[{"field":"d"}]},{"filter":"datum.pc != null && datum.c < datum.pc"}],
 "mark":{"type":"square","color":"#ff0000","size":3,"opacity":1},
 "encoding":{"x":{"field":"d","type":"temporal","axis":null,"scale":{"domain":[1651276800000,1714521600000]}},
 "y":{"field":"c","type":"quantitative","scale":{"domain":[25.683,47.696]}}}},
{"data":{"name":"ma"},"mark":{"type":"line","strokeWidth":1.2},
 "encoding":{"x":{"field":"d","type":"temporal","axis":null,"scale":{"domain":[1651276800000,1714521600000]}},
 "y":{"field":"p","type":"quantitative","scale":{"domain":[25.683,47.696]}},
 "color":{"field":"s","type":"nominal","legend":null,"scale":{"domain":["m","b"],"range":["#ff00ff","#0000ff"]}}}},
{"data":{"values":[{}]},"mark":{"type":"rule","color":"#000000","strokeWidth":2.5},
 "encoding":{"x":{"datum":1651276800000,"type":"temporal","axis":null,"scale":{"domain":[1651276800000,1714521600000]}},"x2":{"datum":1718496000000},
 "y":{"datum":46.439,"type":"quantitative","scale":{"domain":[25.683,47.696]}}}},
{"data":{"values":[{}]},"mark":{"type":"rule","color":"#000000","strokeWidth":2},
 "encoding":{"x":{"datum":1651276800000,"type":"temporal","axis":null,"scale":{"domain":[1651276800000,1714521600000]}},"x2":{"datum":1718496000000},
 "y":{"datum":47.676,"type":"quantitative","scale":{"domain":[25.683,47.696]}}}},
{"data":{"values":[{}]},"mark":{"type":"rule","color":"#000000","strokeWidth":2},
 "encoding":{"x":{"datum":1651276800000,"type":"temporal","axis":null,"scale":{"domain":[1651276800000,1714521600000]}},"x2":{"datum":1718496000000},
 "y":{"datum":25.723,"type":"quantitative","scale":{"domain":[25.683,47.696]}}}},
{"data":{"values":[{}]},"mark":{"type":"rule","color":"#000000","strokeWidth":4},
 "encoding":{"x":{"datum":1651276800000,"type":"temporal","axis":null,"scale":{"domain":[1651276800000,1714521600000]}},
 "y":{"datum":47.696,"type":"quantitative","scale":{"domain":[25.683,47.696]}},"y2":{"datum":25.683}}},
{"data":{"values":[{}]},"mark":{"type":"rule","color":"#000000","strokeWidth":2},
 "encoding":{"x":{"datum":1718409600000,"type":"temporal","axis":null,"scale":{"domain":[1651276800000,1714521600000]}},
 "y":{"datum":47.696,"type":"quantitative","scale":{"domain":[25.683,47.696]}},"y2":{"datum":25.683}}},
{"data":{"values":[{}]},"mark":{"type":"rule","color":"#000000","strokeWidth":2.5},
 "encoding":{"x":{"datum":1714561200000,"type":"temporal","axis":null,"scale":{"domain":[1651276800000,1714521600000]}},
 "y":{"datum":46.439,"type":"quantitative","scale":{"domain":[25.683,47.696]}},"y2":{"datum":25.683}}},
{"data":{"values":[{}]},"mark":{"type":"rule","color":"#000000","strokeWidth":1},
 "encoding":{"x":{"datum":1651276800000,"type":"temporal","axis":null,"scale":{"domain":[1651276800000,1714521600000]}},"x2":{"datum":1714561200000},
 "y":{"datum":31.419,"type":"quantitative","scale":{"domain":[25.683,47.696]}}}},
{"data":{"values":[{}]},"mark":{"type":"rule","color":"#000000","strokeWidth":1},
 "encoding":{"x":{"datum":1651276800000,"type":"temporal","axis":null,"scale":{"domain":[1651276800000,1714521600000]}},"x2":{"datum":1714561200000},
 "y":{"datum":31.338,"type":"quantitative","scale":{"domain":[25.683,47.696]}}}},
{"data":{"values":[{}]},"mark":{"type":"rule","color":"#000000","strokeWidth":2},
 "encoding":{"x":{"datum":1651276800000,"type":"temporal","axis":null,"scale":{"domain":[1651276800000,1714521600000]}},"x2":{"datum":1714561200000},
 "y":{"datum":27.041,"type":"quantitative","scale":{"domain":[25.683,47.696]}}}},
{"data":{"values":[{}]},"mark":{"type":"rule","color":"#000000","strokeWidth":2},
 "encoding":{"x":{"datum":1651276800000,"type":"temporal","axis":null,"scale":{"domain":[1651276800000,1714521600000]}},"x2":{"datum":1714561200000},
 "y":{"datum":26.311,"type":"quantitative","scale":{"domain":[25.683,47.696]}}}},
{"data":{"name":"years"},"transform":[{"filter":"datum.yr != '2022'"}],"mark":{"type":"rule","color":"#000000","strokeWidth":1.5},
 "encoding":{"x":{"field":"start","type":"temporal","axis":null,"scale":{"domain":[1651276800000,1714521600000]}},
 "y":{"datum":27.041,"type":"quantitative","scale":{"domain":[25.683,47.696]}},"y2":{"datum":25.683}}},
{"data":{"name":"years"},"mark":{"type":"text","fontSize":13,"color":"#000000","align":"center","baseline":"alphabetic","font":"Liberation Sans"},
 "encoding":{"x":{"field":"mid","type":"temporal","axis":null,"scale":{"domain":[1651276800000,1714521600000]}},
 "y":{"datum":25.804,"type":"quantitative","scale":{"domain":[25.683,47.696]}},"text":{"field":"yr"}}},
{"data":{"values":[{}]},"mark":{"type":"text","fontSize":13,"color":"#000000","align":"left","baseline":"alphabetic","font":"Liberation Sans","text":"Historic Chart for US:FE by Stockwatch.com 604.687.1500 - (c) 2024"},
 "encoding":{"x":{"datum":1651762800000,"type":"temporal","axis":null,"scale":{"domain":[1651276800000,1714521600000]}},
 "y":{"datum":47.149,"type":"quantitative","scale":{"domain":[25.683,47.696]}}}},
{"data":{"values":[{}]},"mark":{"type":"text","fontSize":13,"color":"#000000","align":"left","baseline":"alphabetic","font":"Liberation Sans","text":"Mon Apr 29 2024 \u00a0Op=38.33 \u00a0Hi=38.94 \u00a0\u00a0Lo=38.30 \u00a0\u00a0Cl=38.78 \u00a0\u00a0Vol=4,019,329 \u00a0\u00a0Year hi=43.89 \u00a0\u00a0lo=32.18"},
 "encoding":{"x":{"datum":1651762800000,"type":"temporal","axis":null,"scale":{"domain":[1651276800000,1714521600000]}},
 "y":{"datum":46.60,"type":"quantitative","scale":{"domain":[25.683,47.696]}}}},
{"data":{"values":[{}]},"mark":{"type":"text","fontSize":13,"color":"#000000","align":"left","baseline":"alphabetic","font":"Liberation Sans","text":"US:FE"},
 "encoding":{"x":{"datum":1651924800000,"type":"temporal","axis":null,"scale":{"domain":[1651276800000,1714521600000]}},
 "y":{"datum":45.831,"type":"quantitative","scale":{"domain":[25.683,47.696]}}}},
{"data":{"values":[{}]},"mark":{"type":"text","fontSize":13,"color":"#000000","align":"left","baseline":"alphabetic","font":"Liberation Sans","text":"Volume"},
 "encoding":{"x":{"datum":1651924800000,"type":"temporal","axis":null,"scale":{"domain":[1651276800000,1714521600000]}},
 "y":{"datum":30.791,"type":"quantitative","scale":{"domain":[25.683,47.696]}}}}
]},
{"data":{"name":"px"},
 "transform":[{"window":[{"op":"lag","field":"c","as":"pc"}],"sort":[{"field":"d"}]},
  {"calculate":"datum.pc == null ? 'up' : (datum.c > datum.pc ? 'up' : (datum.c < datum.pc ? 'down' : 'flat'))","as":"dir"}],
 "mark":{"type":"bar","size":1.7},
 "encoding":{"x":{"field":"d","type":"temporal","axis":null,"scale":{"domain":[1651276800000,1714521600000]}},
 "y":{"field":"v","type":"quantitative","scale":{"domain":[-6.923,97.5]},
  "axis":{"orient":"right","title":null,"values":[5,10,15],"labelExpr":"format(datum.value, '.1f') + ' M'"}},
 "y2":{"datum":0},
 "color":{"field":"dir","type":"nominal","legend":null,"scale":{"domain":["up","down","flat"],"range":["#50b848","#ff0000","#a8a8a8"]}}}}
],
"resolve":{"scale":{"y":"independent","color":"independent"}}
}
